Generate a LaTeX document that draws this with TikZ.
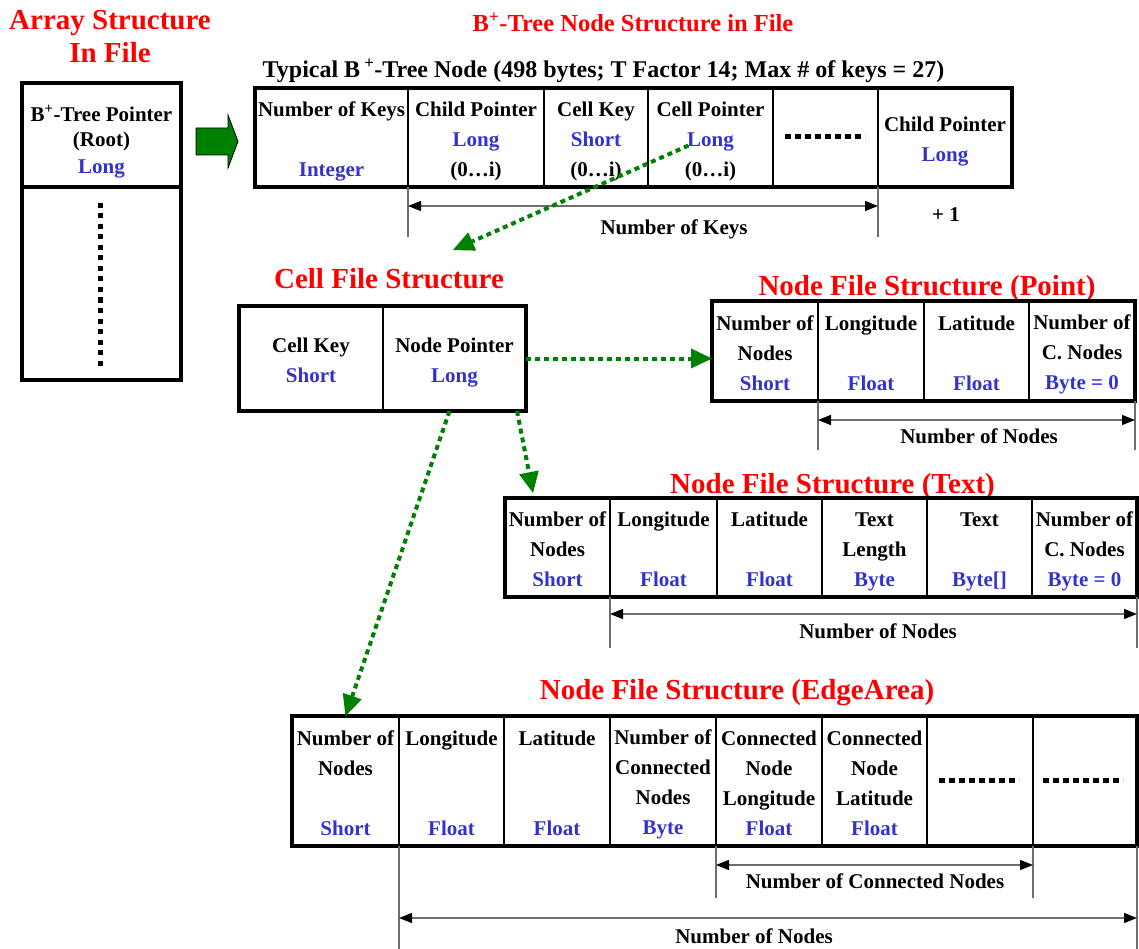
\documentclass[tikz,border=0pt]{standalone}
\usepackage{fontspec}
\setmainfont{Liberation Serif}
\usetikzlibrary{arrows.meta,calc}

\definecolor{typeblue}{RGB}{51,51,204}
\definecolor{linkgreen}{RGB}{0,128,0}
\definecolor{dimgray}{RGB}{110,110,110}
\newcommand{\ty}[1]{\textcolor{typeblue}{#1}}
\newcommand{\bplus}{B\textsuperscript{+}}
\newcommand{\cellstrut}{\rule[-4pt]{0pt}{26pt}}

\tikzset{
  cell/.style={draw, line width=1.5pt, inner sep=0pt, outer sep=0pt, align=flush center,
    minimum width=#1, text width=#1,
    font=\bfseries\fontsize{21}{30}\selectfont,
    execute at begin node=\cellstrut, execute at end node=\cellstrut},
  outer/.style={line width=4pt},
  bigtitle/.style={text=red, align=center, font=\bfseries\fontsize{29}{33}\selectfont},
  smalltitle/.style={text=red, font=\bfseries\fontsize{24.5}{28}\selectfont},
  captext/.style={font=\bfseries\fontsize{24}{28}\selectfont},
  dotline/.style={line width=5pt, dash pattern=on 6pt off 4pt},
  link/.style={linkgreen, line width=4pt, dash pattern=on 5pt off 4pt,
    -{Triangle[length=21pt,width=20pt,line width=0pt]}},
  ext/.style={draw=dimgray, line width=1.2pt},
  dim/.style={draw=dimgray, line width=1.2pt,
    {Triangle[color=black,length=13pt,width=10pt]}-{Triangle[color=black,length=13pt,width=10pt]}},
  dimlabel/.style={font=\bfseries\fontsize{21}{25}\selectfont}
}

\begin{document}
\begin{tikzpicture}[x=1pt,y=-1pt]
  \useasboundingbox (0,0) rectangle (1139,949);

  % titles
  \node[bigtitle] (arraytitle) at (110,37) {Array Structure\\In File};
  \node[smalltitle] (treetitle) at (633,22) {\bplus-Tree Node Structure in File};
  \node[captext] (typical) at (603.5,71) {Typical B\,\textsuperscript{+}-Tree Node (498 bytes; T Factor 14; Max \# of keys = 27)};
  \node[bigtitle] (celltitle) at (389,279) {Cell File Structure};
  \node[bigtitle] (pointtitle) at (927,289) {Node File Structure (Point)};
  \node[bigtitle] (texttitle) at (832.5,487) {Node File Structure (Text)};
  \node[bigtitle] (edgetitle) at (737,693) {Node File Structure (EdgeArea)};

  % array in file
  \node[cell=159, line width=4pt, minimum height=104,
        font=\bfseries\fontsize{21}{25}\selectfont,
        execute at begin node={\rule[-4pt]{0pt}{34pt}},
        execute at end node={\rule[-4pt]{0pt}{21pt}}] (rootptr) at (101.5,135) {\bplus-Tree Pointer\\(Root)\\\ty{Long}};
  \node[cell=159, line width=4pt, minimum height=193] (rootrest) at (101.5,283.5) {};
  \draw[dotline, dash pattern=on 5pt off 5.5pt] (100,203) -- (100,366);

  \draw[fill=linkgreen, line width=0.8pt] (196,128) -- (228,128) -- (228,115) -- (238,141.5)
        -- (228,168) -- (228,155) -- (196,155) -- cycle;

  % typical tree node
  \node[cell=153, minimum height=99] (keys) at (331.5,137.5) {Number of Keys\\~\\\ty{Integer}};
  \node[cell=136, minimum height=99] (child) at (476,137.5) {Child Pointer\\\ty{Long}\\(0…i)};
  \node[cell=104, minimum height=99] (ckey) at (596,137.5) {Cell Key\\\ty{Short}\\(0…i)};
  \node[cell=125, minimum height=99] (cptr) at (710.5,137.5) {Cell Pointer\\\ty{Long}\\(0…i)};
  \node[cell=105, minimum height=99] (tdots) at (825.5,137.5) {};
  \node[cell=134, minimum height=99] (tlast) at (945,137.5) {Child Pointer\\\ty{Long}};
  \draw[outer] (keys.north west) rectangle (tlast.south east);
  \draw[dotline] (785,137) -- (865,137);

  \draw[ext] (child.south west) -- ++(0,50);
  \draw[ext] (tlast.south west) -- ++(0,50);
  \draw[dim] (408,206) -- (878,206);
  \node[dimlabel] (keyslabel) at (674,229) {Number of Keys};
  \node[dimlabel] (plusone) at (946,215) {+ 1};

  % cell file
  \node[cell=144, minimum height=105] (cfkey) at (311,358.5) {Cell Key\\\ty{Short}};
  \node[cell=143, minimum height=105] (cfptr) at (454.5,358.5) {Node Pointer\\\ty{Long}};
  \draw[outer] (cfkey.north west) rectangle (cfptr.south east);

  % node file point
  \node[cell=106, minimum height=100] (ptnum) at (765,351) {Number of\\Nodes\\\ty{Short}};
  \node[cell=106, minimum height=100] (ptlon) at (871,351) {Longitude\\~\\\ty{Float}};
  \node[cell=105, minimum height=100] (ptlat) at (976.5,351) {Latitude\\~\\\ty{Float}};
  \node[cell=106, minimum height=100] (ptcn) at (1082,351) {Number of\\C. Nodes\\\ty{Byte = 0}};
  \draw[outer] (ptnum.north west) rectangle (ptcn.south east);

  \draw[ext] (ptlon.south west) -- ++(0,49);
  \draw[ext] (ptcn.south east) -- ++(0,49);
  \draw[dim] (818,420) -- (1135,420);
  \node[dimlabel] (ptlabel) at (979,436) {Number of Nodes};

  % node file text
  \node[cell=105, minimum height=99] (txnum) at (557.5,547.5) {Number of\\Nodes\\\ty{Short}};
  \node[cell=107, minimum height=99] (txlon) at (663.5,547.5) {Longitude\\~\\\ty{Float}};
  \node[cell=105, minimum height=99] (txlat) at (769.5,547.5) {Latitude\\~\\\ty{Float}};
  \node[cell=105, minimum height=99] (txlen) at (874.5,547.5) {Text\\Length\\\ty{Byte}};
  \node[cell=105, minimum height=99] (txtxt) at (979.5,547.5) {Text\\~\\\ty{Byte[]}};
  \node[cell=105, minimum height=99] (txcn) at (1084.5,547.5) {Number of\\C. Nodes\\\ty{Byte = 0}};
  \draw[outer] (txnum.north west) rectangle (txcn.south east);

  \draw[ext] (txlon.south west) -- ++(0,51);
  \draw[ext] (txcn.south east) -- ++(0,51);
  \draw[dim] (610,614) -- (1137,614);
  \node[dimlabel] (txlabel) at (878,631) {Number of Nodes};

  % node file edge area
  \node[cell=107, minimum height=130] (eanum) at (345.5,781) {Number of\\Nodes\\~\\\ty{Short}};
  \node[cell=105, minimum height=130] (ealon) at (451.5,781) {Longitude\\~\\~\\\ty{Float}};
  \node[cell=106, minimum height=130] (ealat) at (557,781) {Latitude\\~\\~\\\ty{Float}};
  \node[cell=106, minimum height=130] (eacn) at (663,781) {Number of\\Connected\\Nodes\\\ty{Byte}};
  \node[cell=106, minimum height=130] (eaclon) at (769,781) {Connected\\Node\\Longitude\\\ty{Float}};
  \node[cell=105, minimum height=130] (eaclat) at (874.5,781) {Connected\\Node\\Latitude\\\ty{Float}};
  \node[cell=106, minimum height=130] (eadotsa) at (980,781) {};
  \node[cell=104, minimum height=130] (eadotsb) at (1085,781) {};
  \draw[outer] (eanum.north west) rectangle (eadotsb.south east);
  \draw[dotline] (939,780) -- (1019,780);
  \draw[dotline] (1043,780) -- (1123,780);

  \draw[ext] (eaclon.south west) -- ++(0,52);
  \draw[ext] (eadotsb.south west) -- ++(0,52);
  \draw[dim] (716,865) -- (1033,865);
  \node[dimlabel] (cnlabel) at (875,881) {Number of Connected Nodes};

  \draw[ext] (ealon.south west) -- ++(0,103);
  \draw[ext] (eadotsb.south east) -- ++(0,103);
  \draw[dim] (399,918) -- (1137,918);
  \node[dimlabel] (ealabel) at (754,936) {Number of Nodes};

  % links
  \coordinate (celltip) at (453,250);
  \coordinate (texttip) at (533,493);
  \draw[link] ($(cptr)+(-22,8)$) -- (celltip);
  \draw[link] (cfptr.east) -- (cfptr.east -| ptnum.west);
  \draw[link] ($(cfptr.south east)+(-9,0)$) -- (texttip);
  \draw[link] ($(cfptr.south)+(-5,0)$) -- (eanum.north);
\end{tikzpicture}
\end{document}
